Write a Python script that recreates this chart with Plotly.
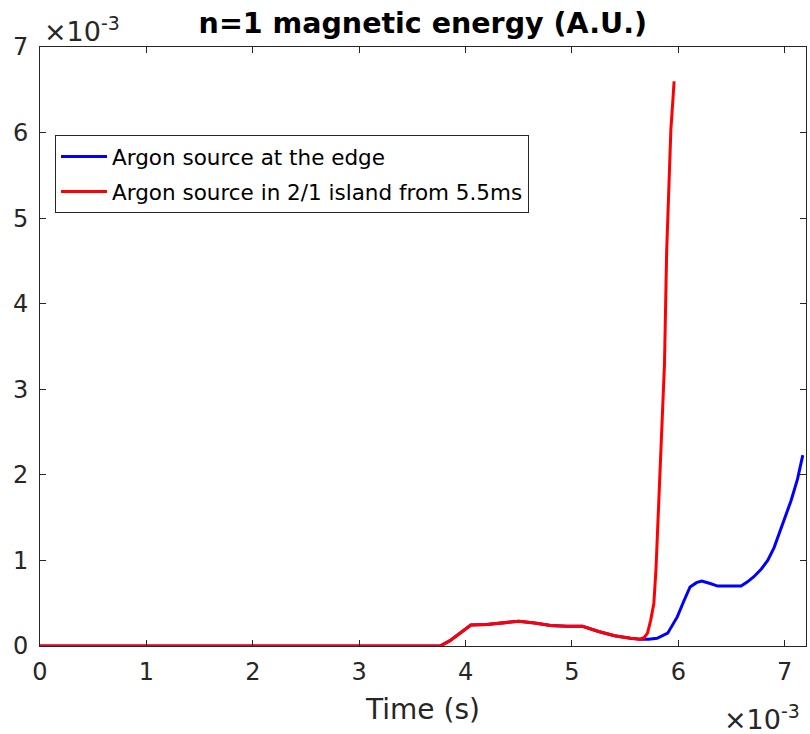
import plotly.graph_objects as go

# time in units of 1e-3 s, energy in units of 1e-3 (A.U.)
t_common = [0, 3.76, 3.85, 3.95, 4.05, 4.2, 4.35, 4.5, 4.65, 4.8, 4.95, 5.1, 5.25, 5.4, 5.55, 5.64]
e_common = [0, 0, 0.06, 0.15, 0.245, 0.25, 0.27, 0.29, 0.27, 0.24, 0.23, 0.23, 0.17, 0.12, 0.09, 0.08]

t_edge = [5.72, 5.8, 5.9, 5.99, 6.05, 6.11, 6.17, 6.22, 6.3, 6.37, 6.45, 6.59, 6.65, 6.71,
          6.78, 6.84, 6.9, 6.96, 7.02, 7.06, 7.12, 7.17]
e_edge = [0.08, 0.09, 0.15, 0.34, 0.52, 0.69, 0.74, 0.76, 0.73, 0.70, 0.70, 0.70, 0.75, 0.81,
          0.9, 1.0, 1.15, 1.36, 1.55, 1.7, 1.95, 2.23]

t_island = [5.68, 5.71, 5.74, 5.77, 5.79, 5.81, 5.84, 5.87, 5.89, 5.91, 5.93, 5.95, 5.96]
e_island = [0.1, 0.15, 0.3, 0.5, 0.9, 1.47, 2.3, 3.3, 4.6, 5.45, 6.04, 6.4, 6.6]

names = ["Argon source at the edge", "Argon source in 2/1 island from 5.5ms"]
ticks = [0, 1, 2, 3, 4, 5, 6, 7]

FONT = "DejaVu Sans"
AX = "#262626"

fig = go.Figure()
fig.add_trace(go.Scatter(x=t_common + t_edge, y=e_common + e_edge, mode="lines",
                         name=names[0], legendgroup="a",
                         line=dict(color="#0000FF", width=3)))
fig.add_trace(go.Scatter(x=t_common + t_island, y=e_common + e_island, mode="lines",
                         name=names[1], legendgroup="b",
                         line=dict(color="#FF0000", width=3)))

axis_common = dict(showline=True, linecolor=AX, linewidth=1, mirror="ticks", ticks="inside",
                   ticklen=6, tickcolor=AX, showgrid=False, zeroline=False,
                   tickfont=dict(family=FONT, size=24, color=AX))
fig.update_xaxes(range=[0, 7.2], tickvals=ticks, ticklabelstandoff=4, **axis_common,
                 title=dict(text="Time (s)", font=dict(family=FONT, size=28, color=AX), standoff=14))
fig.update_yaxes(range=[0, 7], tickvals=ticks, ticklabelstandoff=6, **axis_common)

fig.update_layout(
    width=810, height=734,
    margin=dict(l=40, r=4, t=47, b=88),
    plot_bgcolor="white", paper_bgcolor="white",
    title=dict(text="<b>n=1 magnetic energy (A.U.)</b>", x=0.522, xanchor="center",
               y=0.968, yanchor="middle", font=dict(family=FONT, size=28.5, color="#000000")),
    legend=dict(x=0.0196, y=0.853, xanchor="left", yanchor="top",
                bordercolor=AX, borderwidth=1, bgcolor="white",
                font=dict(family=FONT, size=21.5, color="#000000"),
                tracegroupgap=4, itemwidth=46),
    showlegend=True,
)
fig.add_annotation(xref="paper", yref="paper", x=0.0, y=1.0, xanchor="left", yanchor="bottom",
                   text="×10<sup>-3</sup>", showarrow=False,
                   font=dict(family=FONT, size=27, color=AX), yshift=-2, xshift=2)
fig.add_annotation(xref="paper", yref="paper", x=1.0, y=0, xanchor="right", yanchor="top",
                   text="×10<sup>-3</sup>", showarrow=False,
                   font=dict(family=FONT, size=27, color=AX), yshift=-52, xshift=-4)

fig.write_html("out.html")
